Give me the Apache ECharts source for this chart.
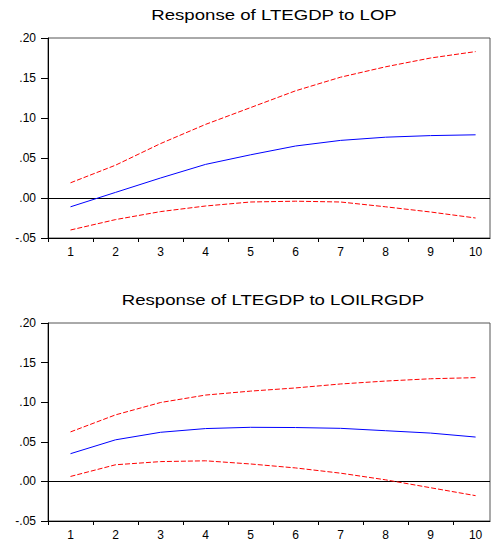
<!DOCTYPE html>
<html>
<head>
<meta charset="utf-8">
<script src="https://cdn.jsdelivr.net/npm/echarts@6/dist/echarts.min.js"></script>
<style>
html,body{margin:0;padding:0;background:#fff;}
#chart{width:491px;height:541px;}
</style>
</head>
<body>
<div id="chart"></div>
<script>
// ---- data ----
const categories = [1, 2, 3, 4, 5, 6, 7, 8, 9, 10];
const titleTop = 'Response of LTEGDP to LOP';
const titleBottom = 'Response of LTEGDP to LOILRGDP';

const lopResponse = [-0.011, 0.007, 0.025, 0.042, 0.054, 0.065, 0.072, 0.076, 0.078, 0.079];
const lopUpper    = [0.019, 0.041, 0.068, 0.092, 0.113, 0.134, 0.151, 0.164, 0.175, 0.183];
const lopLower    = [-0.040, -0.027, -0.017, -0.010, -0.005, -0.004, -0.005, -0.011, -0.0175, -0.025];

const oilResponse = [0.035, 0.0525, 0.062, 0.0667, 0.0683, 0.068, 0.067, 0.064, 0.061, 0.056];
const oilUpper    = [0.0625, 0.084, 0.0996, 0.109, 0.114, 0.118, 0.123, 0.1267, 0.1296, 0.131];
const oilLower    = [0.00625, 0.021, 0.025, 0.026, 0.022, 0.017, 0.0104, 0.002, -0.008, -0.018];

const yMin = -0.05, yMax = 0.20, yStep = 0.05;
const xTickPositions = categories.map(c => c - 0.5);
const xLabelPositions = categories.slice();

// ---- chart ----
const chart = echarts.init(document.getElementById('chart'), null, {renderer: 'svg'});
const FONT = 'Liberation Sans, Arial, sans-serif';

function pairs(vals) { return vals.map((v, i) => [categories[i], v]); }

const grids = [
  {left: 48, right: 1, top: 38, height: 200},
  {left: 48, right: 1, top: 323, height: 200}
];

function makeX(idx) {
  return {
    gridIndex: idx, type: 'value', min: 0.5, max: 10.32,
    axisLine: {show: true, onZero: false, lineStyle: {color: '#000', width: 1}},
    axisTick: {show: true, length: 4, lineStyle: {color: '#000'}, customValues: xTickPositions},
    axisLabel: {show: true, customValues: xLabelPositions, color: '#000', fontFamily: FONT, fontSize: 12, margin: 8,
      formatter: v => String(v)},
    splitLine: {show: false}
  };
}
function makeY(idx) {
  return {
    gridIndex: idx, type: 'value', min: yMin, max: yMax, interval: yStep,
    axisLine: {show: true, onZero: false, lineStyle: {color: '#000', width: 1}},
    axisTick: {show: true, length: 7, lineStyle: {color: '#000'}},
    axisLabel: {color: '#000', fontFamily: FONT, fontSize: 12, margin: 12,
      formatter: v => { const s = v.toFixed(2); return s.replace(/^(-?)0\./, '$1.'); }},
    splitLine: {show: false}
  };
}
function line(idx, vals, color, dashed, zero) {
  const s = {
    type: 'line', xAxisIndex: idx, yAxisIndex: idx, data: pairs(vals),
    symbol: 'none', smooth: false,
    lineStyle: {color: color, width: 1, type: dashed ? [5, 2] : 'solid'},
    z: dashed ? 3 : 4
  };
  if (zero) {
    s.markLine = {silent: true, symbol: 'none', label: {show: false},
      lineStyle: {color: '#000', width: 1, type: 'solid'}, data: [{yAxis: 0}], z: 2};
  }
  return s;
}

chart.setOption({
  animation: false,
  backgroundColor: '#fff',
  grid: grids.map(g => Object.assign({show: true, borderColor: '#555', borderWidth: 1, backgroundColor: 'transparent'}, g)),
  xAxis: [makeX(0), makeX(1)],
  yAxis: [makeY(0), makeY(1)],
  graphic: [
    {type: 'text', x: 274, y: 14.5, scaleX: 1.33,
      style: {text: titleTop, font: '14px ' + FONT, fill: '#000', textAlign: 'center', textVerticalAlign: 'middle'}},
    {type: 'text', x: 273, y: 299.5, scaleX: 1.33,
      style: {text: titleBottom, font: '14px ' + FONT, fill: '#000', textAlign: 'center', textVerticalAlign: 'middle'}}
  ],
  series: [
    line(0, lopResponse, '#0000ff', false, true),
    line(0, lopUpper, '#ff0000', true),
    line(0, lopLower, '#ff0000', true),
    line(1, oilResponse, '#0000ff', false, true),
    line(1, oilUpper, '#ff0000', true),
    line(1, oilLower, '#ff0000', true)
  ]
});
</script>
</body>
</html>
